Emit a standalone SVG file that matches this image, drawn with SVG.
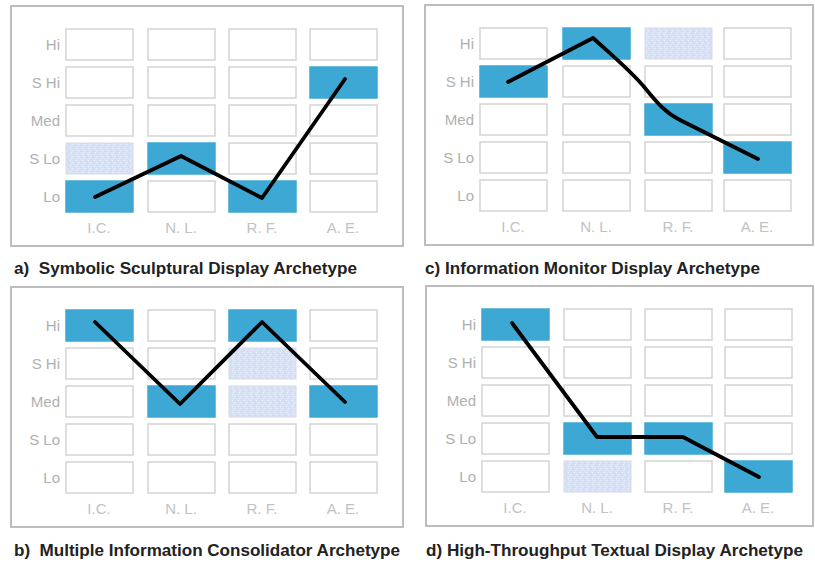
<svg xmlns="http://www.w3.org/2000/svg" width="815" height="566" viewBox="0 0 815 566">
  <style>
    .frame { fill: #ffffff; stroke: #bdbdbd; stroke-width: 2; }
    .cell { fill: #ffffff; stroke: #d4d4d4; stroke-width: 1.5; }
    .on { fill: #3ea8d5; stroke: #3ea8d5; stroke-width: 1.5; }
    .dot { fill: url(#stipple); stroke: #d4d9e8; stroke-width: 1; }
    .row { font-family: "Liberation Sans", Arial, sans-serif; font-size: 15px; fill: #b0b0b0; text-anchor: end; }
    .col { font-family: "Liberation Sans", Arial, sans-serif; font-size: 15px; fill: #c2c2c2; text-anchor: middle; }
    .title { font-family: "Liberation Sans", Arial, sans-serif; font-size: 16px; font-weight: bold; fill: #222222; }
    .trace { fill: none; stroke: #000000; stroke-width: 3.8; stroke-linejoin: round; stroke-linecap: round; }
  </style>
  <defs>
    <pattern id="stipple" width="6" height="6" patternUnits="userSpaceOnUse">
      <rect width="6" height="6" fill="#d8e2f7"/>
      <rect x="0" y="0" width="1" height="1" fill="#eef2fc"/>
      <rect x="3" y="1" width="1" height="1" fill="#c6d3f2"/>
      <rect x="1" y="3" width="1" height="1" fill="#cbd7f3"/>
      <rect x="4" y="4" width="1" height="1" fill="#eef2fc"/>
      <rect x="5" y="2" width="1" height="1" fill="#e8eefb"/>
      <rect x="2" y="5" width="1" height="1" fill="#c6d3f2"/>
    </pattern>
  </defs>
  <rect width="815" height="566" fill="#ffffff"/>

  <!-- Panel a: Symbolic Sculptural Display -->
  <g id="panel-a">
    <rect class="frame" x="11" y="6" width="392" height="240"/>
    <g id="a-grid">
      <rect class="cell" x="66" y="29" width="67" height="31"/>
      <rect class="cell" x="148" y="29" width="67" height="31"/>
      <rect class="cell" x="229" y="29" width="67" height="31"/>
      <rect class="cell" x="310" y="29" width="67" height="31"/>
      <rect class="cell" x="66" y="67" width="67" height="31"/>
      <rect class="cell" x="148" y="67" width="67" height="31"/>
      <rect class="cell" x="229" y="67" width="67" height="31"/>
      <rect class="on" x="310" y="67" width="67" height="31"/>
      <rect class="cell" x="66" y="105" width="67" height="31"/>
      <rect class="cell" x="148" y="105" width="67" height="31"/>
      <rect class="cell" x="229" y="105" width="67" height="31"/>
      <rect class="cell" x="310" y="105" width="67" height="31"/>
      <rect class="dot" x="66" y="143" width="67" height="31"/>
      <rect class="on" x="148" y="143" width="67" height="31"/>
      <rect class="cell" x="229" y="143" width="67" height="31"/>
      <rect class="cell" x="310" y="143" width="67" height="31"/>
      <rect class="on" x="66" y="181" width="67" height="31"/>
      <rect class="cell" x="148" y="181" width="67" height="31"/>
      <rect class="on" x="229" y="181" width="67" height="31"/>
      <rect class="cell" x="310" y="181" width="67" height="31"/>
    </g>
    <text class="row" x="60" y="50">Hi</text>
    <text class="row" x="60" y="88">S Hi</text>
    <text class="row" x="60" y="126">Med</text>
    <text class="row" x="60" y="164">S Lo</text>
    <text class="row" x="60" y="202">Lo</text>
    <text class="col" x="99" y="233">I.C.</text>
    <text class="col" x="181" y="233">N. L.</text>
    <text class="col" x="262" y="233">R. F.</text>
    <text class="col" x="343" y="233">A. E.</text>
    <text class="title" x="14" y="274" textLength="343" lengthAdjust="spacingAndGlyphs" xml:space="preserve">a)  Symbolic Sculptural Display Archetype</text>
  </g>

  <!-- Panel c: Information Monitor Display -->
  <g id="panel-c">
    <rect class="frame" x="425" y="5" width="388" height="240"/>
    <g id="c-grid">
      <rect class="cell" x="480" y="28" width="67" height="31"/>
      <rect class="on" x="563" y="28" width="67" height="31"/>
      <rect class="dot" x="645" y="28" width="67" height="31"/>
      <rect class="cell" x="724" y="28" width="67" height="31"/>
      <rect class="on" x="480" y="66" width="67" height="31"/>
      <rect class="cell" x="563" y="66" width="67" height="31"/>
      <rect class="cell" x="645" y="66" width="67" height="31"/>
      <rect class="cell" x="724" y="66" width="67" height="31"/>
      <rect class="cell" x="480" y="104" width="67" height="31"/>
      <rect class="cell" x="563" y="104" width="67" height="31"/>
      <rect class="on" x="645" y="104" width="67" height="31"/>
      <rect class="cell" x="724" y="104" width="67" height="31"/>
      <rect class="cell" x="480" y="142" width="67" height="31"/>
      <rect class="cell" x="563" y="142" width="67" height="31"/>
      <rect class="cell" x="645" y="142" width="67" height="31"/>
      <rect class="on" x="724" y="142" width="67" height="31"/>
      <rect class="cell" x="480" y="180" width="67" height="31"/>
      <rect class="cell" x="563" y="180" width="67" height="31"/>
      <rect class="cell" x="645" y="180" width="67" height="31"/>
      <rect class="cell" x="724" y="180" width="67" height="31"/>
    </g>
    <text class="row" x="474" y="49">Hi</text>
    <text class="row" x="474" y="87">S Hi</text>
    <text class="row" x="474" y="125">Med</text>
    <text class="row" x="474" y="163">S Lo</text>
    <text class="row" x="474" y="201">Lo</text>
    <text class="col" x="513" y="232">I.C.</text>
    <text class="col" x="596" y="232">N. L.</text>
    <text class="col" x="678" y="232">R. F.</text>
    <text class="col" x="757" y="232">A. E.</text>
    <text class="title" x="425" y="274" textLength="335" lengthAdjust="spacingAndGlyphs">c) Information Monitor Display Archetype</text>
  </g>

  <!-- Panel b: Multiple Information Consolidator -->
  <g id="panel-b">
    <rect class="frame" x="11" y="287" width="392" height="240"/>
    <g id="b-grid">
      <rect class="on" x="66" y="310" width="67" height="31"/>
      <rect class="cell" x="148" y="310" width="67" height="31"/>
      <rect class="on" x="229" y="310" width="67" height="31"/>
      <rect class="cell" x="310" y="310" width="67" height="31"/>
      <rect class="cell" x="66" y="348" width="67" height="31"/>
      <rect class="cell" x="148" y="348" width="67" height="31"/>
      <rect class="dot" x="229" y="348" width="67" height="31"/>
      <rect class="cell" x="310" y="348" width="67" height="31"/>
      <rect class="cell" x="66" y="386" width="67" height="31"/>
      <rect class="on" x="148" y="386" width="67" height="31"/>
      <rect class="dot" x="229" y="386" width="67" height="31"/>
      <rect class="on" x="310" y="386" width="67" height="31"/>
      <rect class="cell" x="66" y="424" width="67" height="31"/>
      <rect class="cell" x="148" y="424" width="67" height="31"/>
      <rect class="cell" x="229" y="424" width="67" height="31"/>
      <rect class="cell" x="310" y="424" width="67" height="31"/>
      <rect class="cell" x="66" y="462" width="67" height="31"/>
      <rect class="cell" x="148" y="462" width="67" height="31"/>
      <rect class="cell" x="229" y="462" width="67" height="31"/>
      <rect class="cell" x="310" y="462" width="67" height="31"/>
    </g>
    <text class="row" x="60" y="331">Hi</text>
    <text class="row" x="60" y="369">S Hi</text>
    <text class="row" x="60" y="407">Med</text>
    <text class="row" x="60" y="445">S Lo</text>
    <text class="row" x="60" y="483">Lo</text>
    <text class="col" x="99" y="514">I.C.</text>
    <text class="col" x="181" y="514">N. L.</text>
    <text class="col" x="262" y="514">R. F.</text>
    <text class="col" x="343" y="514">A. E.</text>
    <text class="title" x="14" y="556" textLength="386" lengthAdjust="spacingAndGlyphs" xml:space="preserve">b)  Multiple Information Consolidator Archetype</text>
  </g>

  <!-- Panel d: High-Throughput Textual Display -->
  <g id="panel-d">
    <rect class="frame" x="426" y="286" width="387" height="240"/>
    <g id="d-grid">
      <rect class="on" x="482" y="309" width="67" height="31"/>
      <rect class="cell" x="564" y="309" width="67" height="31"/>
      <rect class="cell" x="645" y="309" width="67" height="31"/>
      <rect class="cell" x="725" y="309" width="67" height="31"/>
      <rect class="cell" x="482" y="347" width="67" height="31"/>
      <rect class="cell" x="564" y="347" width="67" height="31"/>
      <rect class="cell" x="645" y="347" width="67" height="31"/>
      <rect class="cell" x="725" y="347" width="67" height="31"/>
      <rect class="cell" x="482" y="385" width="67" height="31"/>
      <rect class="cell" x="564" y="385" width="67" height="31"/>
      <rect class="cell" x="645" y="385" width="67" height="31"/>
      <rect class="cell" x="725" y="385" width="67" height="31"/>
      <rect class="cell" x="482" y="423" width="67" height="31"/>
      <rect class="on" x="564" y="423" width="67" height="31"/>
      <rect class="on" x="645" y="423" width="67" height="31"/>
      <rect class="cell" x="725" y="423" width="67" height="31"/>
      <rect class="cell" x="482" y="461" width="67" height="31"/>
      <rect class="dot" x="564" y="461" width="67" height="31"/>
      <rect class="cell" x="645" y="461" width="67" height="31"/>
      <rect class="on" x="725" y="461" width="67" height="31"/>
    </g>
    <text class="row" x="476" y="330">Hi</text>
    <text class="row" x="476" y="368">S Hi</text>
    <text class="row" x="476" y="406">Med</text>
    <text class="row" x="476" y="444">S Lo</text>
    <text class="row" x="476" y="482">Lo</text>
    <text class="col" x="515" y="513">I.C.</text>
    <text class="col" x="597" y="513">N. L.</text>
    <text class="col" x="678" y="513">R. F.</text>
    <text class="col" x="758" y="513">A. E.</text>
    <text class="title" x="426" y="556" textLength="377" lengthAdjust="spacingAndGlyphs">d) High-Throughput Textual Display Archetype</text>
  </g>

  <!-- Profile traces across the four columns -->
  <g id="connectors">
    <polyline class="trace" points="95,197 181,156 262,198 345,79"/>
    <path class="trace" d="M508,82 L593,38 C615,58 632,72 645,88 C658,104 666,113 680,120 L758,159"/>
    <polyline class="trace" points="95,322 180,404 262,322 345,402"/>
    <polyline class="trace" points="512,323 597,437 683,437 759,477"/>
  </g>
</svg>
